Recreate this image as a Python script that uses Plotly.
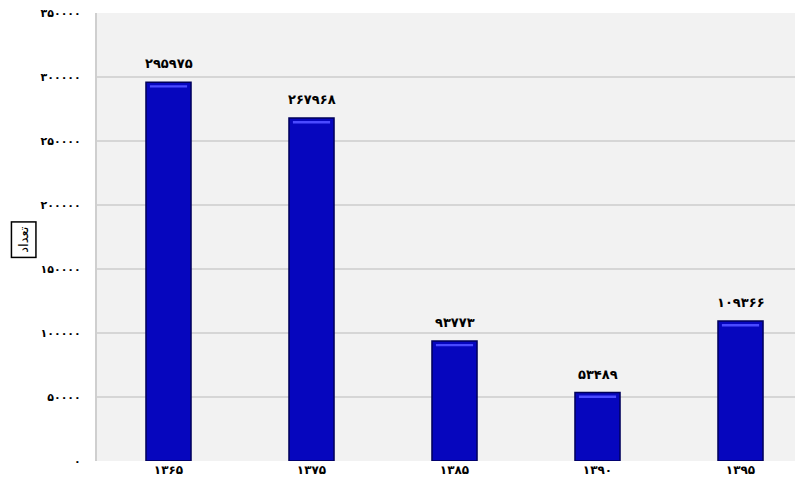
import plotly.graph_objects as go

categories = ["۱۳۶۵", "۱۳۷۵", "۱۳۸۵", "۱۳۹۰", "۱۳۹۵"]
values = [295975, 267968, 93773, 53489, 109366]
y_ticks = [0, 50000, 100000, 150000, 200000, 250000, 300000, 350000]
y_title = "تعداد"

FA = str.maketrans("0123456789", "۰۱۲۳۴۵۶۷۸۹")
def fa(n):
    return str(n).translate(FA)

pos = list(range(len(categories)))
font_family = "DejaVu Sans, Noto Sans, sans-serif"

fig = go.Figure()
fig.add_trace(go.Bar(
    x=pos, y=values, width=0.315,
    marker=dict(color="#0606be", line=dict(color="#00005a", width=1.5)),
    hoverinfo="skip",
))
# light highlight strip near the top of each bar
fig.add_trace(go.Bar(
    x=pos, y=[1800] * len(values), base=[v - 4200 for v in values], width=0.26,
    marker=dict(color="#4a4aff", line=dict(width=0)),
    hoverinfo="skip",
))
fig.update_layout(barmode="overlay")

annotations = [
    dict(x=p, y=v, xref="x", yref="y", text=fa(v), showarrow=False,
         yanchor="bottom", yshift=9,
         font=dict(size=13, weight="bold", color="#000000"))
    for p, v in zip(pos, values)
]
annotations.append(dict(text=y_title, textangle=-90, xref="paper", yref="paper",
                        x=-0.1035, y=0.495, xanchor="center", yanchor="middle",
                        showarrow=False, bordercolor="#000000", borderwidth=1.5,
                        borderpad=4, font=dict(size=13, color="#000000")))

fig.update_layout(
    width=795, height=485,
    margin=dict(l=89, r=0, t=5, b=32, autoexpand=False),
    paper_bgcolor="#ffffff", plot_bgcolor="#f2f2f2",
    showlegend=False,
    font=dict(family=font_family, color="#000000"),
    xaxis=dict(range=[-0.5, 4.437], tickvals=pos, ticktext=categories,
               showgrid=False, zeroline=False, showline=False, automargin=False,
               tickfont=dict(size=12, weight="bold"), ticks=""),
    yaxis=dict(range=[0, 350000], tickvals=y_ticks, ticktext=[fa(t) for t in y_ticks],
               showgrid=True, gridcolor="#d6d6d6", gridwidth=1.5, automargin=False,
               zeroline=False, showline=True, linecolor="#cfcfcf", linewidth=2,
               tickfont=dict(size=11, weight="bold"), ticks="", ticklabelstandoff=12,
               ticklabeloverflow="allow"),
    annotations=annotations,
)
fig.write_html("out.html")
